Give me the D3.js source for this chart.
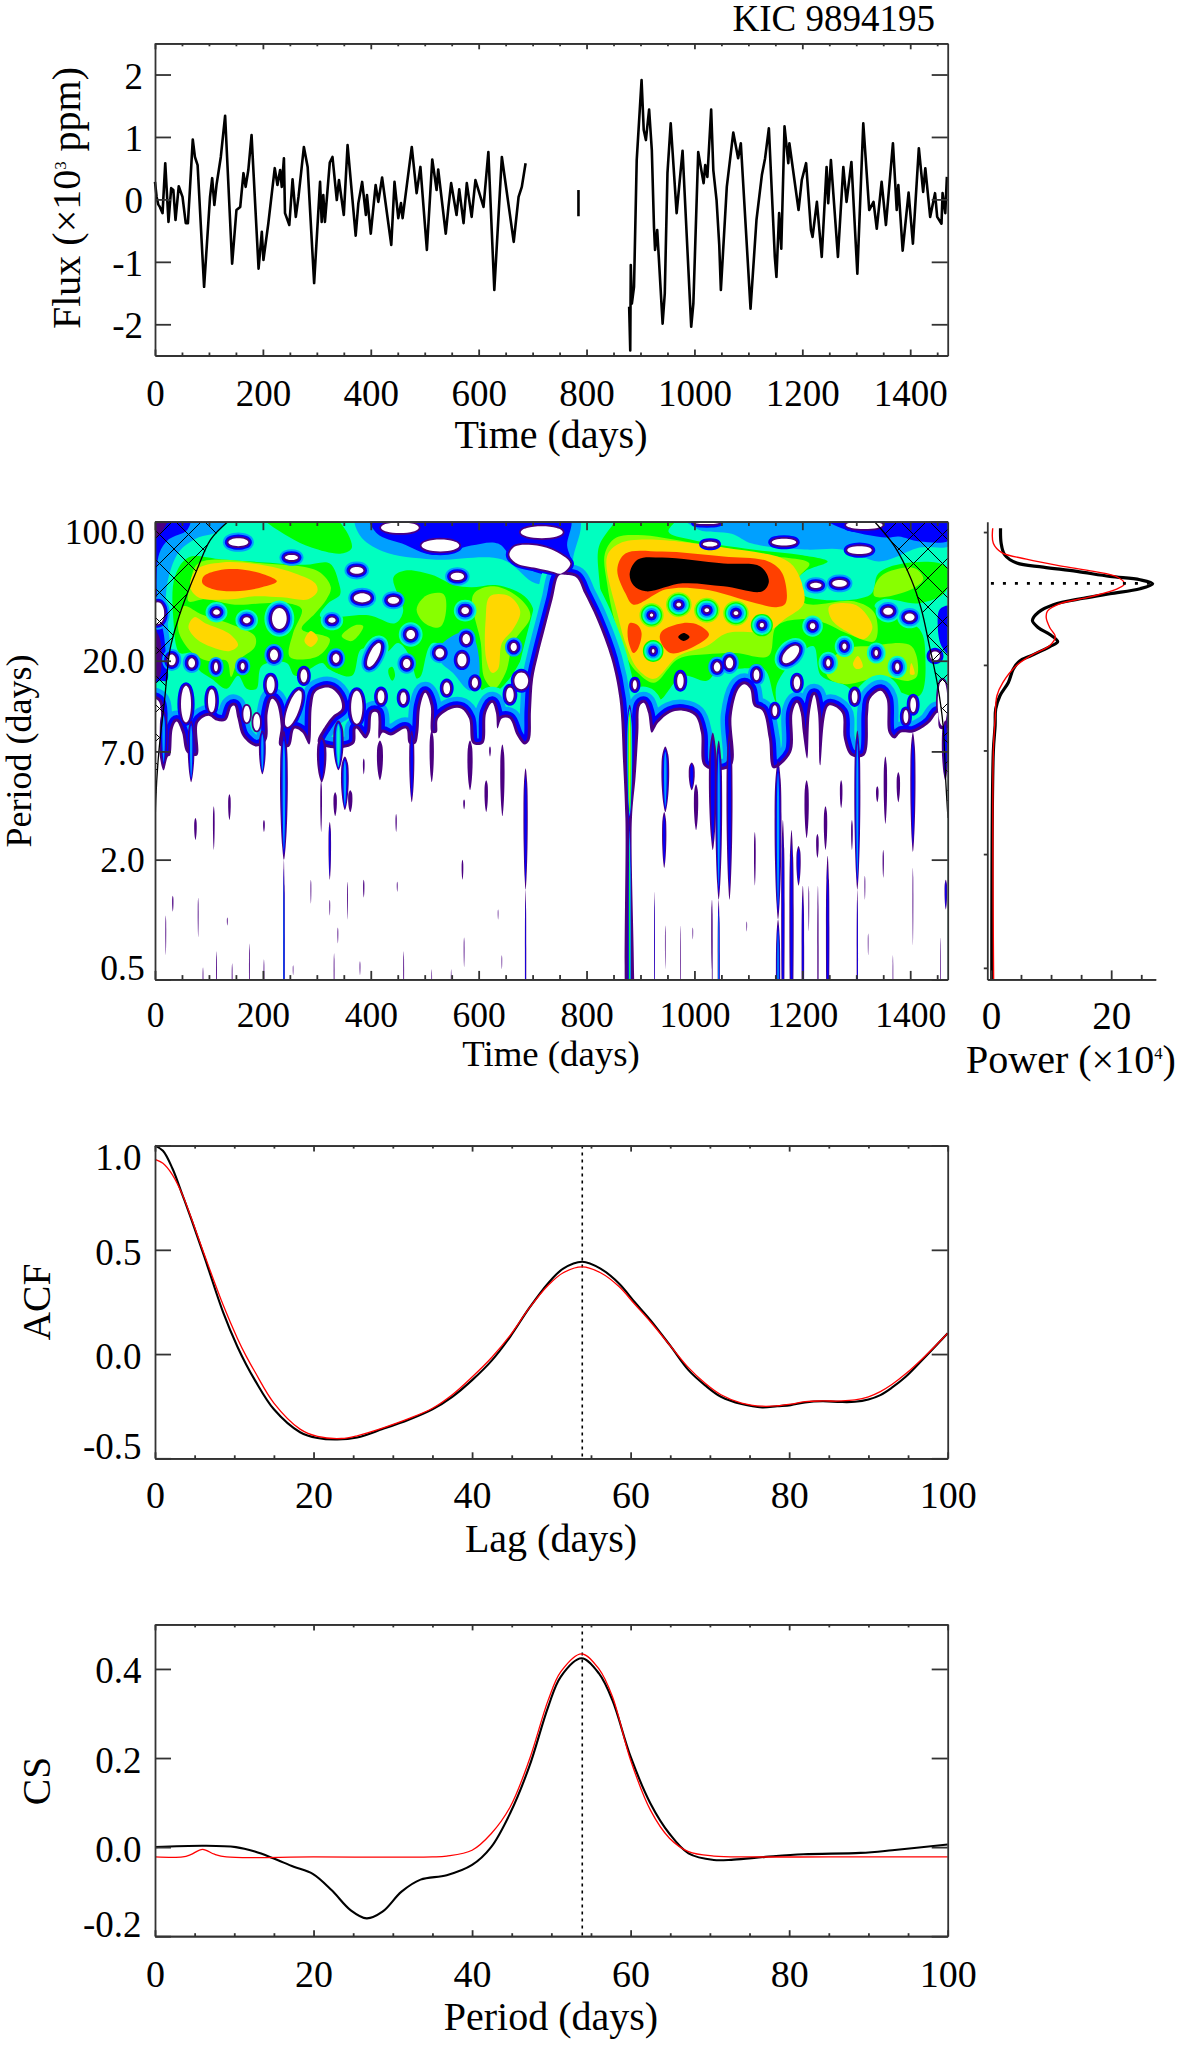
<!DOCTYPE html>
<html><head><meta charset="utf-8">
<script src="https://cdn.jsdelivr.net/npm/d3@7"></script>
<style>
html,body{margin:0;padding:0;background:#fff}
svg{display:block}
text{font-family:"Liberation Serif",serif;fill:#000}
</style></head><body>
<svg id="c" width="1200" height="2045"></svg>
<script>
// ---------- light curve (time in days, flux in 10^3 ppm)
const fluxA=[[0,.28],[3,.04],[6,-.08],[9,-.12],[14,-.22],[19,.58],[25,-.36],[30,.18],[34,.15],[38,-.33],[44,.21],[51,.04],[57,-.38],[61,-.38],[65,.2],[70,.96],[74,.68],[79,.55],[91,-1.4],[102,.04],[106,.34],[110,-.09],[114,.23],[122,.68],[130,1.34],[143,-1.03],[151,-.17],[158,-.12],[164,.42],[168,.2],[173,.47],[179,1.03],[192,-1.11],[198,-.52],[201,-.97],[210,-.39],[222,.5],[227,.23],[232,.47],[235,.2],[239,.66],[241,-.22],[249,-.41],[255,.32],[261,-.28],[266,.04],[276,.84],[283,.52],[295,-1.34],[306,.28],[309,-.36],[312,.07],[315,-.36],[324,.59],[329,.68],[337,-.01],[341,.31],[350,-.25],[357,.87],[372,-.58],[377,-.06],[384,.28],[391,-.25],[393,.07],[400,-.55],[409,.23],[414,-.04],[421,.35],[438,-.73],[444,.28],[451,-.3],[456,-.06],[459,-.3],[476,.84],[485,.1],[492,.52],[504,-.81],[514,.64],[522,.15],[525,.48],[539,-.55],[544,-.12],[549,.26],[559,-.25],[564,.16],[572,-.38],[578,.26],[587,-.28],[594,.31],[609,-.12],[618,.76],[629,-1.45],[643,.68],[649,.31],[665,-.68],[674,.04],[680,.2],[687,.58]];
const fluxB=[[785,.15],[785,-.27]];
const fluxC=[[879,-1.72],[881,-2.42],[882,-1.05],[884,-1.67],[888,-1.4],[893,.63],[902,1.91],[906,1.11],[910,.95],[916,1.44],[921,.79],[925,-.44],[927,-.81],[931,-.49],[941,-1.99],[945,-1.51],[950,.42],[956,1.22],[967,-.22],[978,.78],[994,-2.04],[998,-1.67],[1007,.76],[1017,.26],[1020,.55],[1024,.36],[1031,1.44],[1035,.47],[1041,-.01],[1046,-.73],[1049,-1.45],[1060,.2],[1072,1.07],[1081,.66],[1086,.9],[1104,-1.75],[1115,-.33],[1125,.39],[1131,.66],[1138,1.14],[1149,-.92],[1152,-1.24],[1157,-.22],[1161,-.79],[1167,1.17],[1174,.58],[1176,.9],[1193,-.17],[1199,.31],[1207,.58],[1216,-.49],[1219,-.6],[1227,-.04],[1236,-.92],[1245,.52],[1248,-.06],[1253,.63],[1266,-.92],[1276,.52],[1282,-.04],[1291,.6],[1302,-1.19],[1313,1.22],[1324,-.17],[1332,-.04],[1338,-.47],[1347,.28],[1355,-.41],[1368,.9],[1375,-.17],[1378,.23],[1386,-.82],[1397,.11],[1405,-.71],[1416,.82],[1424,.12],[1428,.5],[1437,-.28],[1446,.1],[1450,-.28],[1458,-.39],[1460,.1],[1465,-.22],[1468,.36]];

// ---------- ticks
const timeMajor=[0,200,400,600,800,1000,1200,1400];
const fluxTicks=[-2,-1,0,1,2];
const periodTicks=[100,20,7,2,0.5];
const periodLabels=["100.0","20.0","7.0","2.0","0.5"];
const sideDepthTicks=[5.2,72,115,167.1,224.3];
const powerMajor=[0,20], powerMinor=[5,10,15,25];
const lagMajor=[0,20,40,60,80,100];
const acfTicks=[-0.5,0,0.5,1];
const csTicks=[-0.2,0,0.2,0.4];
const peakPeriod=53.9, peakDepth=31;

// ---------- global power (power in 10^4, depth = 100*log10(100/period))
const gwsBlack=[[1.6,3.3],[1.7,10.8],[2.3,16.7],[4.3,20.8],[8.7,22.8],[14.3,25],[19.8,27.5],[24.8,29.2],[26.9,31.2],[24.8,33.7],[19.8,36.2],[15.4,38.5],[10.4,41.7],[7.9,45.5],[6.9,49.7],[7.9,53.3],[9.8,56.7],[11.1,60.3],[9.8,62.8],[6.8,67.2],[4.8,70],[3.7,74.2],[2.9,80.8],[1.5,87.5],[.8,94.2],[.7,102.5],[.4,115.8],[.15,230]];
const gwsRed=[[.3,3.3],[.4,10.8],[1.8,15.5],[5.9,18.8],[11.5,22.2],[17.1,25],[21,27.8],[22.2,31.2],[21,33.8],[16.5,37.8],[11.5,41.2],[9.4,45],[9.2,48.3],[9.8,53.3],[10.7,57.8],[9.8,62.2],[7,66.7],[4.3,72.2],[2,80.8],[1,87.5],[.7,99.2],[.4,115.8],[.45,230]];

// ---------- ACF
const acfBlack=[[0,1],[1,.975],[2.2,.89],[3.4,.77],[4.6,.645],[6.2,.47],[8.6,.2],[10.4,.035],[11.5,-.05],[12.6,-.125],[15,-.265],[18.3,-.375],[20.5,-.403],[23,-.41],[25.5,-.4],[28.7,-.36],[32,-.315],[35,-.265],[37.5,-.205],[40,-.125],[42.5,-.03],[44.8,.083],[47.2,.22],[49.6,.34],[51.5,.41],[53.9,.443],[56.2,.41],[58.5,.34],[60.5,.25],[62.5,.163],[65,.04],[67.3,-.077],[69.4,-.15],[71.4,-.205],[74,-.24],[76.6,-.256],[78.5,-.25],[80.2,-.245],[82,-.232],[84.2,-.226],[86.5,-.23],[88.3,-.229],[90,-.218],[91.5,-.197],[93,-.16],[94.7,-.109],[97,-.02],[100,.1]];
const acfRed=[[0,.934],[1,.915],[2.2,.86],[3.4,.77],[4.6,.65],[6.2,.48],[8.6,.235],[10.4,.075],[11.5,-.01],[12.6,-.085],[15,-.235],[18.3,-.36],[20.5,-.395],[23.5,-.405],[25.5,-.392],[28.7,-.355],[32,-.31],[35,-.26],[37.5,-.195],[40,-.11],[42.5,-.015],[44.8,.09],[47.2,.22],[49.6,.33],[51.5,.39],[53.9,.418],[56.2,.39],[58.5,.325],[60.5,.24],[62.5,.155],[65,.04],[67.3,-.065],[69.4,-.14],[71.4,-.195],[74,-.235],[76.6,-.25],[78.5,-.248],[80.2,-.24],[82,-.228],[84.2,-.225],[86.5,-.225],[88.3,-.22],[90,-.205],[91.5,-.18],[93,-.145],[94.7,-.095],[97,-.015],[100,.1]];

// ---------- CS
const csBlack=[[0,0],[6.2,.003],[10.2,0],[12.6,-.01],[14.9,-.025],[17.5,-.044],[19.9,-.06],[22.3,-.097],[24.7,-.142],[26.7,-.16],[28.7,-.145],[31.1,-.1],[33.5,-.073],[36.8,-.063],[40,-.04],[42.4,0],[44.8,.076],[47.2,.18],[49.6,.315],[51.2,.383],[53.8,.424],[56,.39],[57.7,.33],[60,.203],[62.5,.098],[64.9,.03],[67.3,-.014],[70.5,-.029],[73,-.028],[77,-.022],[81.8,-.016],[89,-.013],[93,-.007],[100,.006]];
const csRed=[[0,-.022],[3.5,-.022],[4.5,-.017],[6,-.005],[7.5,-.016],[9,-.022],[20,-.022],[35,-.022],[36.8,-.02],[40,-.007],[42.4,.03],[44.8,.09],[47.2,.195],[49.6,.33],[51.2,.394],[53.8,.434],[56,.4],[57.7,.338],[60,.195],[62.5,.083],[64.9,.02],[67.3,-.01],[70.5,-.02],[75,-.022],[85,-.022],[100,-.022]];

// ---------- wavelet power: contour outlines, as [time (days), depth] with
// depth = 100*log10(100/period)
const whiteGround=[[-20,260],[-20,90],[6,90],[9,118],[16,125],[24,118],[28,117.5],[33,104],[40,100.5],[50,106],[59,116],[78,117.5],[80,101],[99,97.5],[114,100],[131,100],[142,93],[147,92.5],[153,99],[163,108],[188,113],[206,110],[209,96],[217,89],[225,91],[233,102.5],[231,112.5],[249,113],[259,104],[273,106],[286,112],[291,92.5],[298,85.5],[323,83.5],[341,87.5],[346,94],[330,97.5],[316,102.5],[302,111],[335,114],[369,111.5],[373,104],[390,109],[398,106],[403,96],[412,96],[415,109],[422,106],[437,107.5],[465,104],[471,111.5],[483,111.5],[488,106],[492,92.5],[501,86],[511,92.5],[513,106],[522,106],[525,99],[550,94],[568,94],[582,99],[589,111.5],[608,111.5],[614,96],[625,91],[632,96],[635,104],[643,99],[657,99],[671,107.5],[685,112],[694,110],[697,95],[701,79],[710,67.5],[724,52.5],[737,39],[749,27],[759,26.7],[781,28],[796,36],[819,49],[846,69],[861,89],[868,122.5],[872,149],[878,260],[883,260],[884,150],[891,128],[896,106],[899,92.5],[906,91],[914,96],[921,106],[933,101],[955,96],[978,95],[1001,97.5],[1012,106],[1017,122.5],[1040,125],[1069,122.5],[1069,97.5],[1082,84],[1093,81.7],[1103,84],[1110,92.5],[1126,95],[1138,109],[1146,124],[1179,116],[1182,96],[1190,91],[1197,96],[1201,106],[1209,119],[1214,96],[1222,87],[1229,96],[1233,122.5],[1249,92.5],[1273,96],[1277,109],[1290,117.5],[1315,117.5],[1322,96],[1326,89],[1345,85],[1356,89],[1360,106],[1371,109],[1383,106],[1405,106],[1421,104],[1436,101],[1451,96],[1455,104],[1490,104],[1490,260]];
const noseHole=[[657,16.7],[667,12.5],[699,11.7],[735,14],[770,21],[753,26],[735,25],[707,23.3],[671,21]];

const greenLeft=[[37,27.5],[62,18],[124,19],[204,20.5],[278,21.7],[324,21],[341,31],[343,36.7],[321,41],[306,47.5],[396,47],[445,51],[460,45],[442,28],[464,24.5],[513,26.7],[556,32],[586,33],[635,32],[685,37.5],[703,46],[692,61],[657,79],[628,86],[607,85],[589,72.5],[515,61],[493,77.5],[486,79],[472,67.5],[451,61],[427,66],[383,64],[365,77.5],[322,74],[310,71],[260,77.5],[244,71],[198,72.5],[188,84],[170,84],[154,77.5],[133,84],[105,79],[80,74],[68,66],[46,66],[34,49]];
const greenTop=[[198,-3],[328,-3],[365,13],[346,16],[290,13],[247,7.5]];
const greenSmallA=[[433,74],[440,73],[445,77.5],[440,80],[434,77.5]];
const greenSmallB=[[22,85],[31,92.5],[22,96],[15,91]];
const greenRight=[[823,12.5],[846,2.5],[864,-3],[970,-3],[952,5],[993,9],[1107,14],[1197,16.7],[1247,20],[1205,25],[1186,31],[1205,37.5],[1326,36.7],[1341,26],[1387,21],[1466,22.5],[1466,35],[1417,41],[1349,39],[1334,42.5],[1417,54],[1428,67.5],[1417,87.5],[1356,84],[1311,89],[1281,82.5],[1235,77.5],[1220,62.5],[1152,82.5],[1167,106],[1148,89],[1129,74],[1091,74],[1046,74],[1023,80],[978,77.5],[929,91],[895,84],[864.5,71],[834,46],[823,27.5]];
const limeLeftA=[[80,21],[204,21],[303,25],[326,33],[318,39],[297,46],[272,54],[324,59],[303,67.5],[250,68],[256,56],[272,44],[247,41],[204,41],[148,41.7],[93,39],[62,40],[65,32.5]];
const limeLeftB=[[53,42.5],[87,46.7],[142,51.7],[185,57.5],[185,63],[154,70],[141,78],[133,70],[99,70],[80,68],[59,63],[43,54]];
const limeLeftC=[[590,36.7],[629,32.5],[678,39],[696,47.5],[664,61],[650,76],[629,84],[611,79],[604,61]];
const limeLeftD=[[485,44],[504,37],[535,36.5],[539,46],[528,53],[500,51]];
const limeLeftE=[[346,57.5],[371,52],[386,52.5],[365,60]];
const limeRightA=[[834,16],[853,8.3],[895,6.7],[1001,10.8],[1129,16.7],[1213,21],[1197,26.7],[1182,32.5],[1205,41],[1296,40],[1334,46],[1334,60],[1281,56],[1243,51],[1197,49],[1152,52.5],[1137,67.5],[1076,66],[1023,66.7],[970,69],[925,81],[895,76],[876,69],[853,51],[838,31]];
const limeRightB=[[1334,32.5],[1349,26.7],[1402,23],[1417,25],[1424,29],[1394,35],[1334,37.5]];
const limeRightC=[[1243,72.5],[1281,64],[1326,62.5],[1402,62.5],[1413,77.5],[1398,80],[1349,78],[1281,81.7],[1250,79]];
const yellowLeftA=[[77,24],[124,20.5],[204,22],[260,26],[297,31],[301,35],[284,39],[235,38],[185,37.5],[142,39],[80,38],[65,32.5]];
const yellowLeftB=[[73,48],[93,51],[136,56],[154,62],[139,65],[105,63],[77,59],[62,53]];
const yellowLeftC=[[289,55],[302,59],[289,63],[277,60]];
const yellowLeftD=[[621,37.5],[657,37.5],[677,45],[664,54],[643,61],[636,74],[625,76],[614,69],[613,49]];
const yellowRightA=[[838,17.5],[861,11],[910,9],[1054,13],[1167,19],[1190,25],[1203,41],[1167,49],[1137,55],[1061,56],[1023,62.5],[970,67.5],[925,79],[895,74],[876,64],[857,46]];
const yellowRightB=[[1250,42.5],[1300,42],[1330,53],[1315,59],[1281,55],[1254,49]];
const yellowRightC=[[1303,67.5],[1312,73],[1300,74],[1294,71.7]];
const yellowRightD=[[1402,71],[1408,76.7],[1400,76.7]];
const redLeft=[[90,27.5],[117,24.5],[161,24],[204,26.7],[226,30],[198,33],[148,35],[108,34],[88,31]];
const redRightA=[[857,24],[872,16],[940,15],[1054,17.5],[1137,20],[1163,26],[1169,41],[1152,43],[1114,41],[1016,34],[948,34],[887,41.7],[872,36]];
const redRightB=[[940,55],[978,51],[1008,52],[1027,56.7],[1001,62.5],[955,66],[936,59]];
const redRightC=[[880,51],[895,52],[902,56],[895,64],[887,66],[880,62.5],[876,56]];
const blackRightA=[[880,26],[895,19],[940,18],[1054,21],[1122,22.5],[1138,30],[1126,35],[1054,32.5],[978,31],[910,35],[887,32]];
const blackRightB=[[970,58],[980,56],[991,58],[980,60]];
const lbTopLeft=[[373,-3],[784,-3],[775,20],[785,30],[745,31],[705,31],[644,19],[515,19],[423,15],[380,7]];
const lbTopRight=[[978,-3],[1475,-3],[1475,11.7],[1417,13],[1371,18],[1341,20],[1273,14],[1205,14],[1107,11],[1069,6],[1008,4]];
const lbEdgeLeft=[[-8,-3],[135,-3],[115,5],[80,8],[45,15],[25,28],[20,40],[25,55],[28,70],[-8,70]];
const blueTopLeft=[[398,-3],[768,-3],[764,12],[771,21],[743,27],[671,21],[636,11],[586,12],[515,16.7],[458,11],[412,6]];
const blueTopRight=[[1235,-3],[1475,-3],[1475,9],[1417,10],[1379,7.5],[1356,8],[1273,3.3]];
const blueEdgeLeftA=[[-8,-3],[65,-3],[60,4],[25,9],[8,16],[3,30],[3,48],[-8,48]];
const blueEdgeLeftB=[[-8,44],[12,52],[20,66],[22,80],[8,80],[-8,85]];
const lbMass=[[525,64],[564,56],[589,57.5],[600,80],[584,85],[552,76],[528,70]];
const blueEdgeRight=[[1455,44],[1475,42.5],[1475,67.5],[1458,62.5],[1451,52.5]];
const purpleCorner=[[-8,-3],[25,-3],[10,6],[-8,10]];
const purpleEdge=[[-8,52],[8,58],[12,70],[8,78],[-8,80]];

// holes: time, depth, half-width (days), half-height (depth), rings around it, shear
const holes=[[154.5,10.3,18.5,2,3,0],[253,18,12,1.3,3,0],[374,24.5,12.4,1.7,3,0],[384,38.3,15.5,2.3,3,0],[442,39.5,10.5,1.7,3,0],[560.5,27.5,12.4,1.8,3,0],
[114,45.5,6.2,1.3,4,0],[170,49.5,6.8,1.5,4,0],[230.5,48.7,13.6,5.3,4,0],[328,49.5,6.8,1.3,4,0],[474,56.7,8,2.3,4,0],[406,67,9.3,6,4,-1.5],[528,66,8,2.3,3,0],
[31,69.5,7.4,2.7,3,0],[68,71,6.2,2.3,3,0],[113,73,3.7,2.2,3,0],[162.5,72.7,3.7,1.7,3,0],[220.6,67,7.4,2.7,3,0],[335.6,68.7,6.2,2.3,3,0],[466.6,71.3,6.8,2.3,3,0],
[276,77.5,6.2,3.3,2,0],[214.4,82,7.4,4.3,2,0],[540.8,83.7,6.2,3,2,0],[419,88,6.2,3.3,2,0],[460.4,88.7,5.6,3,2,0],[170,96.7,6.2,4.2,1,0],[188.5,100.8,6.2,4.2,1,0],
[57.5,91.7,9.3,9.2,2,0],[105,90,6.8,5.8,2,0],[256.5,94,11,9.2,2,-1.2],[374,93.3,10.5,8.3,2,0],[575,44.7,7,1.7,4,0],[577,59,7,2.5,3,0],[569,69.5,8.5,3.3,3,0],[593,81,5.7,2.5,2,0],[665,63,5.7,2,3,0],[679,80,12.8,4.2,2,0],[658,87,7,3.7,2,0],[5,46,12,5.5,3,0],
[454,3,35,2.7,2,0],[529,12,35,3,2,0],[717,5.3,39,3,2,0],
[1029,11.3,13.6,1.2,2,0],[1166,10.3,22.7,1.7,2,0],[1306,14.3,22.7,2,2,0],[1023,.5,22.7,.7,2,0],[1315,1.7,34,2,2,0],[1225,32,10.6,1.3,4,0],[1269,31,13.6,1.7,4,0],[1359,45,9,1.8,4,0],[1399,48,9,1.8,4,0],
[971,41.7,4.3,1,6,0],[1023,44.5,4.3,1,6,0],[1077,46,4.3,1,6,0],[920.5,47,3,.8,6,0],[1125,52,3.8,1.1,5,0],[1219,52.5,5,1.5,4,0],[923.5,65,2.4,1,5,0],[1278,62.7,3.8,1.5,4,0],[1337,66,3.2,1.5,4,0],[1248,71,3.8,1.8,4,0],[1376,73,3.8,1.8,4,0],[1178.5,66.7,13,4.4,4,-2],
[1065,71,6.8,2.7,3,0],[1042,73,6,2.3,3,0],[1115,77,5.3,2.7,3,0],[1190,81,6,3.3,2,0],[974,80,6,3.7,2,0],[889.5,82,3.8,2.3,2,0],[1297,88,5.3,3.3,2,0],[1405.5,92,5.3,3.7,2,0],[1149,95,4.5,2.7,2,0],[1392,98,4.5,3.3,2,0],[1256.5,97.5,3.8,4,2,0],[1224,106,5.3,10,2,0],[1446,67.5,9,2.3,2,0],[1460,91,9,11.7,1,0]];

// streaks below the main body: time, depth from, depth to, half-width (days), nested levels
const streaks=[[16,95,123,9,3],[67,100,131,8,3],[199,105,127,8,3],[239,105,170,9,3],[239,170,280,2,3],[309,108,131,11,2],[308,130,156,2,1],[340,100,125,12,4],[352,118,145,9,3],[362,135,146,5,1],[334,136,148,4,1],[324,151,180,3,2],[387,119,127,2,1],[417,110,130,7,1],[476,105,141,6,2],[513,105,131,5,1],[584,110,135,6,1],[621,113,118,2,1],[644,112,148,5,1],[614,130,146,4,1],[573,139.6,144.6,2,1],[570,170,180,2,1],[687,124,185,5,2],[687,185,270,1.6,2],[447,147,156,1.5,1],[449,181,186,1,1],[387,180,189,1.5,1],[357,181,200,1,1],[324,190,198,1,1],[289,180,192,1,1],[202,150,156,2,1],[138,137,150,3,1],[109,143,165,2,1],[75,149,160,3,1],[33,188,196,1.5,1],[20,198,218,1,1],[80,189,209,1,1],[134,199,203,1,1],[175,212,240,1,1],[114,216,240,1,1],[143,222,240,1,1],[202,220,240,1,1],[332,217,240,1,1],[461,216,240,1,1],[573,209,224,1,1],[339,204,212,1,1],[636,195,200,.8,1],[643,218,225,.8,1],[380,221,228,1,1],[513,225,240,.8,1],[549,225,240,.8,1],[89,224,240,1,1],[256,223,228,.8,1],
[880,92,150,8,7],[880,148,300,3.6,5],[946,113,146,9,3],[944,146,174,5,2],[995,121,135,7,2],[1003,132,155,5,1],[1034,106,165,9,2],[1045,110,190,8,3],[1045,190,270,2.4,3],[1065,105,190,7,2],[1032,190,225,1,1],[1112,156,183,2,1],[1155,120,200,8,3],[1155,200,270,5,3],[1164,150,270,4,2],[1180,155,270,5,2],[1193,163,183,5,2],[1201,183,270,3,2],[1212,183,206,1,1],[1229,183,270,1.5,1],[1247,168,270,4,2],[1208,130,159,5,1],[1243,143,165,4,1],[1228,157,169,3,1],[1272,130,144,3,1],[1292,150,165,2,1],[1302,105,185,7,3],[1302,185,270,1.6,2],[1316,178,190,1,1],[1339,133,141,3,1],[1350,165,179,1.5,1],[1378,126,141,4,1],[1354,118,152,4,1],[1405,106,166,6,2],[1405,174,213,1,1],[1465,100,130,8,2],[1466,180,195,3,2],[926,186,250,1,2],[946,203,225,.8,1],[974,203,250,.8,1],[997,204,210,.8,1],[1033,190,250,1,1],[1097,201,206,.8,1],[1322,207,218,.8,1],[1368,218,250,.8,1],[1456,209,250,.8,1]];

const coiLeft=[[135,0],[103,9],[78,24],[60,36],[43,49],[28,64],[18,89],[7,116],[1.4,140],[0,160]];
const coiRight=[[1334,0],[1371.4,12.5],[1402,29],[1420.6,44],[1435.7,62.5],[1451,82.5],[1461,102.5],[1466,131],[1470,149]];

// ---------- drawing
const svg=d3.select("#c");
const C={purple:"#4b0082",blue:"#0000ff",lb:"#00a0ff",cyan:"#00ffc0",green:"#00ff00",lime:"#88ff00",yellow:"#ffd700",red:"#ff4000",black:"#000"};
const ringColors=[C.purple,C.blue,C.lb,C.cyan,C.green,C.lime,C.yellow];
const holeRingWidth=[1.8,3.6,5.6,7.6,9,10.5];
const groundRingWidth=[3,6.5,11,16];
const L=155,R=947.7;
const axisColor="#333";

const xTime1=d3.scaleLinear().domain([0,1469.5]).range([L,R]);
const yFlux=d3.scaleLinear().domain([-2.5,2.5]).range([355.5,43.3]);
const xTime2=xTime1;
const yPeriod=d3.scaleLog().domain([100,0.5]).range([521.7,979.4]);
const xPower=d3.scaleLinear().domain([-0.6,27.4]).range([987.3,1155.7]);
const xLag=d3.scaleLinear().domain([0,100]).range([L,R]);
const yAcf=d3.scaleLinear().domain([-0.5,1]).range([1458.3,1145.6]);
const xPer=xLag;
const yCs=d3.scaleLinear().domain([-0.2,0.5]).range([1936.2,1624.4]);
const periodOf=d=>100*Math.pow(10,-d/100);

function styleAxis(g){g.selectAll("path.domain,.tick line").attr("stroke",axisColor).attr("stroke-width",1.8);g.selectAll(".domain").attr("fill","none")}
function frame(x,y,o){
  const [x0,x1]=x.range(),y0=Math.max(...y.range()),y1=Math.min(...y.range()); // y0 bottom, y1 top
  const b=svg.append("g").attr("transform",`translate(0,${y0})`).call(d3.axisBottom(x).tickValues(o.xMajor).tickFormat(d3.format("d")).tickSize(-o.maj).tickSizeOuter(0));
  b.selectAll("text").attr("y",o.xBase).attr("dy",0).attr("font-size",o.fs).attr("fill","#000");
  styleAxis(b);
  svg.append("g").attr("transform",`translate(0,${y0})`).call(d3.axisBottom(x).tickValues(o.xMinor).tickFormat("").tickSize(-o.min).tickSizeOuter(0)).call(styleAxis);
  svg.append("g").attr("transform",`translate(0,${y1})`).call(d3.axisTop(x).tickValues(o.xMajor).tickFormat("").tickSize(-o.maj).tickSizeOuter(0)).call(styleAxis);
  svg.append("g").attr("transform",`translate(0,${y1})`).call(d3.axisTop(x).tickValues(o.xMinor).tickFormat("").tickSize(-o.min).tickSizeOuter(0)).call(styleAxis);
  const l=svg.append("g").attr("transform",`translate(${x0},0)`).call(d3.axisLeft(y).tickValues(o.yTicks).tickFormat((d,i)=>o.yLabels[i]).tickSize(-16).tickSizeOuter(0));
  l.selectAll("text").attr("x",o.yRight).attr("dy",(d,i)=>o.yShift[i]).attr("font-size",o.fsY||o.fs).attr("fill","#000").attr("text-anchor","end");
  styleAxis(l);
  svg.append("g").attr("transform",`translate(${x1},0)`).call(d3.axisRight(y).tickValues(o.yTicks).tickFormat("").tickSize(-16).tickSizeOuter(0)).call(styleAxis);
}
function text(s,x,y,fs,rot,anchor){
  const t=svg.append("text").attr("font-size",fs).attr("text-anchor",anchor||"middle");
  if(rot) t.attr("transform",`translate(${x},${y}) rotate(-90)`); else t.attr("x",x).attr("y",y);
  t.text(s);
  return t;
}
function supText(parts,x,y,fs,rot){
  const t=svg.append("text").attr("font-size",fs).attr("text-anchor","middle");
  if(rot) t.attr("transform",`translate(${x},${y}) rotate(-90)`); else t.attr("x",x).attr("y",y);
  t.append("tspan").text(parts[0]);
  t.append("tspan").attr("font-size",fs*.42).attr("dy",-fs*.36).text(parts[1]);
  t.append("tspan").attr("dy",fs*.36).text(parts[2]);
}

// panel 1
const lineFlux=d3.line().x(d=>xTime1(d[0])).y(d=>yFlux(d[1]));
[fluxA,fluxB,fluxC].forEach(s=>svg.append("path").attr("d",lineFlux(s)).attr("fill","none").attr("stroke","#000").attr("stroke-width",2.6).attr("stroke-linejoin","round"));
const minor50=d3.range(0,1470,50).filter(v=>v%200);
frame(xTime1,yFlux,{xMajor:timeMajor,xMinor:minor50,maj:6,min:3,xBase:50.5,fs:37,yTicks:fluxTicks,yLabels:["-2","-1","0","1","2"],yRight:-12,yShift:[13.5,13.5,13.5,13.5,13.5]});
text("KIC 9894195",935,31,37,false,"end");
text("Time (days)",551,448,40);
supText(["Flux (×10","3"," ppm)"],80,198,40,true);

// panel 2 wavelet
const defs=svg.append("defs");
defs.append("clipPath").attr("id","plot").append("rect").attr("x",L).attr("y",521.7).attr("width",R-L).attr("height",979.4-521.7);
const wg=svg.append("g").attr("clip-path","url(#plot)");
const px=d=>xTime2(d[0]), py=d=>yPeriod(periodOf(d[1]));
const closed=d3.line().x(px).y(py).curve(d3.curveCatmullRomClosed.alpha(0.5));
wg.append("rect").attr("x",L).attr("y",521.7).attr("width",R-L).attr("height",979.4-521.7).attr("fill",C.cyan);
const bodies=[
 [lbEdgeLeft,C.lb],[lbTopLeft,C.lb],[lbTopRight,C.lb],
 [blueEdgeLeftA,C.blue],[blueEdgeLeftB,C.blue],[blueTopLeft,C.blue],[blueTopRight,C.blue],[blueEdgeRight,C.blue],
 [purpleCorner,C.purple],[purpleEdge,C.purple],
 [greenLeft,C.green],[greenTop,C.green],[greenSmallA,C.green],[greenSmallB,C.green],[greenRight,C.green],
 [limeLeftA,C.lime],[limeLeftB,C.lime],[limeLeftC,C.lime],[limeLeftD,C.lime],[limeLeftE,C.lime],[limeRightA,C.lime],[limeRightB,C.lime],[limeRightC,C.lime],
 [yellowLeftA,C.yellow],[yellowLeftB,C.yellow],[yellowLeftC,C.yellow],[yellowLeftD,C.yellow],[yellowRightA,C.yellow],[yellowRightB,C.yellow],[yellowRightC,C.yellow],[yellowRightD,C.yellow],
 [redLeft,C.red],[redRightA,C.red],[redRightB,C.red],[redRightC,C.red],
 [blackRightA,C.black],[blackRightB,C.black],
 [lbMass,C.lb]
];
bodies.forEach(([p,c])=>wg.append("path").attr("d",closed(p)).attr("fill",c));
function holeOutline(h){
  const [t,d,rx,ry,,sh]=h;
  return d3.range(0,16).map(i=>{const a=i/16*2*Math.PI,dy=ry*Math.sin(a);return [t+rx*Math.cos(a)+sh*dy,d+dy];});
}
// rings, widest first, across every white shape
for(let lev=5;lev>=0;lev--){
  holes.filter(h=>h[4]>lev).forEach(h=>wg.append("path").attr("d",closed(holeOutline(h))).attr("fill","none").attr("stroke",ringColors[lev]).attr("stroke-width",2*holeRingWidth[lev]));
  if(lev<2) wg.append("path").attr("d",closed(noseHole)).attr("fill","none").attr("stroke",ringColors[lev]).attr("stroke-width",2*holeRingWidth[lev]);
  if(lev<4) wg.append("path").attr("d",closed(whiteGround)).attr("fill","none").attr("stroke",ringColors[lev]).attr("stroke-width",2*groundRingWidth[lev]).attr("stroke-linejoin","round");
}
holes.forEach(h=>wg.append("path").attr("d",closed(holeOutline(h))).attr("fill","#fff"));
wg.append("path").attr("d",closed(noseHole)).attr("fill","#fff");
wg.append("path").attr("d",closed(whiteGround)).attr("fill","#fff");
// streaks
function lens(s,f){
  const [t,d0,d1,hw]=s,h=d1-d0,fr=[0,.12,.35,.65,.9,1],w=[0,.6,.8,.7,.35,0];
  const m=(1-f)*.12*h;
  const pt=(q)=>d0+m+q*(h-2*m);
  const right=fr.map((q,i)=>[t+w[i]*hw*f,pt(q)]);
  const left=fr.slice(1,-1).reverse().map(q=>[t-w[fr.indexOf(q)]*hw*f,pt(q)]);
  return right.concat(left);
}
streaks.forEach(s=>{for(let i=0;i<s[4];i++){
  wg.append("path").attr("d",closed(lens(s,(s[4]-i)/s[4]))).attr("fill",ringColors[i]);
}});
// cone of influence hatch
const coiRegionL=[[-5,-5]].concat([[135,-5]],coiLeft,[[0,240],[-5,240]]);
const coiRegionR=[[1334,-5]].concat(coiRight,[[1470,240],[1480,240],[1480,-5]]);
const straight=d3.line().x(px).y(py);
const curveCoi=d3.line().x(px).y(py).curve(d3.curveCatmullRom.alpha(.5));
["coiL","coiR"].forEach((id,i)=>defs.append("clipPath").attr("id",id).append("path").attr("d",straight(i?coiRegionR:coiRegionL)+"Z"));
const hatchStep=29;
["coiL","coiR"].forEach(id=>{
  const g=wg.append("g").attr("clip-path",`url(#${id})`);
  d3.range(-40,80).forEach(n=>{
    const c=n*hatchStep;
    g.append("line").attr("x1",c).attr("y1",520).attr("x2",c+480).attr("y2",1000).attr("stroke","#000").attr("stroke-width",1);
    g.append("line").attr("x1",c).attr("y1",520).attr("x2",c-480).attr("y2",1000).attr("stroke","#000").attr("stroke-width",1);
  });
});
[coiLeft,coiRight].forEach(c=>wg.append("path").attr("d",curveCoi(c)).attr("fill","none").attr("stroke","#000").attr("stroke-width",1.3));

frame(xTime2,yPeriod,{xMajor:timeMajor,xMinor:minor50,maj:8.5,min:4.3,xBase:47.3,fs:35.5,yTicks:periodTicks,yLabels:periodLabels,yRight:-10.3,yShift:[22,12,13,12,0]});
text("Time (days)",551,1066,36.8);
text("Period (days)",30.5,751,36,true);

// side panel
const sideLine=d3.line().x(d=>xPower(d[0])).y(d=>yPeriod(periodOf(d[1]))).curve(d3.curveCatmullRom.alpha(.5));
svg.append("path").attr("d",sideLine(gwsBlack)).attr("fill","none").attr("stroke","#000").attr("stroke-width",3.2);
svg.append("path").attr("d",sideLine(gwsRed)).attr("fill","none").attr("stroke","#f00").attr("stroke-width",1.4);
svg.append("line").attr("x1",xPower(0)).attr("x2",xPower(26.9)).attr("y1",yPeriod(periodOf(peakDepth))).attr("y2",yPeriod(periodOf(peakDepth))).attr("stroke","#000").attr("stroke-width",2.6).attr("stroke-dasharray","3 9");
const sb=svg.append("g").attr("transform","translate(0,979.4)").call(d3.axisBottom(xPower).tickValues(powerMajor).tickFormat(d3.format("d")).tickSize(-9).tickSizeOuter(0));
sb.selectAll("text").attr("y",49.6).attr("dy",0).attr("font-size",39).attr("fill","#000");styleAxis(sb);
svg.append("g").attr("transform","translate(0,979.4)").call(d3.axisBottom(xPower).tickValues(powerMinor).tickFormat("").tickSize(-4.5).tickSizeOuter(0)).call(styleAxis);
svg.append("g").attr("transform","translate(987.3,0)").call(d3.axisLeft(yPeriod).tickValues(sideDepthTicks.map(periodOf)).tickFormat("").tickSize(3.5).tickSizeOuter(0)).call(styleAxis);
supText(["Power (×10","4",")"],1071,1073,40,false);

// panel 3
const smooth=(x,y)=>d3.line().x(d=>x(d[0])).y(d=>y(d[1])).curve(d3.curveCatmullRom.alpha(.5));
const minor5=d3.range(5,100,5).filter(v=>v%20);
svg.append("line").attr("x1",xLag(peakPeriod)).attr("x2",xLag(peakPeriod)).attr("y1",1145.6).attr("y2",1458.3).attr("stroke","#000").attr("stroke-width",1.6).attr("stroke-dasharray","3 4");
svg.append("path").attr("d",smooth(xLag,yAcf)(acfBlack)).attr("fill","none").attr("stroke","#000").attr("stroke-width",2.1);
svg.append("path").attr("d",smooth(xLag,yAcf)(acfRed)).attr("fill","none").attr("stroke","#f00").attr("stroke-width",1.3);
frame(xLag,yAcf,{xMajor:lagMajor,xMinor:minor5,maj:6,min:3,xBase:50,fs:38,fsY:37,yTicks:acfTicks,yLabels:["-0.5","0.0","0.5","1.0"],yRight:-13.4,yShift:[0,14,14.3,24]});
text("Lag (days)",551,1552,40);
text("ACF",50,1302,39.6,true);

// panel 4
svg.append("line").attr("x1",xPer(peakPeriod)).attr("x2",xPer(peakPeriod)).attr("y1",1624.4).attr("y2",1936.2).attr("stroke","#000").attr("stroke-width",1.6).attr("stroke-dasharray","3 4");
svg.append("path").attr("d",smooth(xPer,yCs)(csBlack)).attr("fill","none").attr("stroke","#000").attr("stroke-width",2.1);
svg.append("path").attr("d",smooth(xPer,yCs)(csRed)).attr("fill","none").attr("stroke","#f00").attr("stroke-width",1.3);
frame(xPer,yCs,{xMajor:lagMajor,xMinor:minor5,maj:6,min:3,xBase:50.4,fs:38,fsY:37,yTicks:csTicks,yLabels:["-0.2","0.0","0.2","0.4"],yRight:-13.4,yShift:[0.5,14,14,14]});
text("Period (days)",551,2030,40);
text("CS",50,1781,39.6,true);
</script>
</body></html>
